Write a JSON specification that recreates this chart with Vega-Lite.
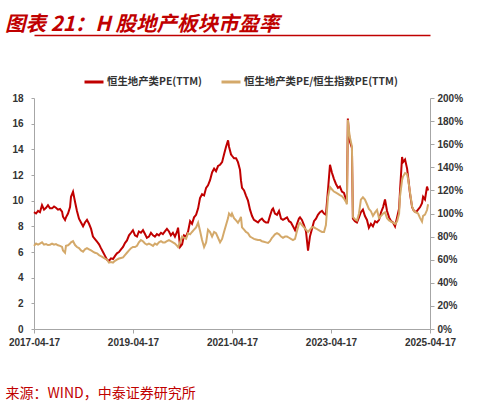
{
  "$schema": "https://vega.github.io/schema/vega-lite/v6.json",
  "width": 396,
  "height": 231,
  "autosize": {"type": "none"},
  "padding": {"left": 34, "top": 98, "right": 58, "bottom": 77},
  "background": "white",
  "title": {
    "text": "图表 21：H 股地产板块市盈率",
    "anchor": "start",
    "frame": "group",
    "dx": -29,
    "dy": 4,
    "offset": 4,
    "color": "#C00000",
    "font": "Noto Sans CJK SC",
    "fontSize": 20.5,
    "fontWeight": "bold",
    "fontStyle": "italic"
  },
  "config": {"view": {"stroke": null}},
  "data": {
    "values": [
      {"date": "2017-04-17", "pe": 9.1, "ratio": 0.72},
      {"date": "2017-05-02", "pe": 9.0, "ratio": 0.74},
      {"date": "2017-05-17", "pe": 9.2, "ratio": 0.73},
      {"date": "2017-05-31", "pe": 9.1, "ratio": 0.74},
      {"date": "2017-06-15", "pe": 9.65, "ratio": 0.75},
      {"date": "2017-06-30", "pe": 9.3, "ratio": 0.73},
      {"date": "2017-07-15", "pe": 9.45, "ratio": 0.735},
      {"date": "2017-07-29", "pe": 9.65, "ratio": 0.727},
      {"date": "2017-08-13", "pe": 9.4, "ratio": 0.73},
      {"date": "2017-08-28", "pe": 9.4, "ratio": 0.74},
      {"date": "2017-09-12", "pe": 9.55, "ratio": 0.73},
      {"date": "2017-09-26", "pe": 9.45, "ratio": 0.735},
      {"date": "2017-10-11", "pe": 9.3, "ratio": 0.725},
      {"date": "2017-10-26", "pe": 9.35, "ratio": 0.72},
      {"date": "2017-11-10", "pe": 9.15, "ratio": 0.71},
      {"date": "2017-11-17", "pe": 8.75, "ratio": 0.68},
      {"date": "2017-12-02", "pe": 8.5, "ratio": 0.66},
      {"date": "2017-12-09", "pe": 8.7, "ratio": 0.72},
      {"date": "2017-12-24", "pe": 9.0, "ratio": 0.725},
      {"date": "2018-01-08", "pe": 9.5, "ratio": 0.74},
      {"date": "2018-01-15", "pe": 10.3, "ratio": 0.75},
      {"date": "2018-01-30", "pe": 10.7, "ratio": 0.76},
      {"date": "2018-02-14", "pe": 9.9, "ratio": 0.727},
      {"date": "2018-02-28", "pe": 9.2, "ratio": 0.71},
      {"date": "2018-03-15", "pe": 8.6, "ratio": 0.70},
      {"date": "2018-03-30", "pe": 8.3, "ratio": 0.68},
      {"date": "2018-04-14", "pe": 8.0, "ratio": 0.67},
      {"date": "2018-04-28", "pe": 8.3, "ratio": 0.69},
      {"date": "2018-05-13", "pe": 8.5, "ratio": 0.70},
      {"date": "2018-05-28", "pe": 8.2, "ratio": 0.69},
      {"date": "2018-06-12", "pe": 7.8, "ratio": 0.68},
      {"date": "2018-06-26", "pe": 7.2, "ratio": 0.67},
      {"date": "2018-07-11", "pe": 7.0, "ratio": 0.66},
      {"date": "2018-07-26", "pe": 6.8, "ratio": 0.655},
      {"date": "2018-08-10", "pe": 6.6, "ratio": 0.64},
      {"date": "2018-08-24", "pe": 6.3, "ratio": 0.63},
      {"date": "2018-09-08", "pe": 6.0, "ratio": 0.62},
      {"date": "2018-09-23", "pe": 5.7, "ratio": 0.61},
      {"date": "2018-10-08", "pe": 5.4, "ratio": 0.60},
      {"date": "2018-10-22", "pe": 5.3, "ratio": 0.575},
      {"date": "2018-11-06", "pe": 5.5, "ratio": 0.58},
      {"date": "2018-11-21", "pe": 5.45, "ratio": 0.575},
      {"date": "2018-12-06", "pe": 5.7, "ratio": 0.59},
      {"date": "2018-12-20", "pe": 5.9, "ratio": 0.60},
      {"date": "2019-01-04", "pe": 6.0, "ratio": 0.61},
      {"date": "2019-01-19", "pe": 6.2, "ratio": 0.615},
      {"date": "2019-02-03", "pe": 6.4, "ratio": 0.62},
      {"date": "2019-02-17", "pe": 6.7, "ratio": 0.64},
      {"date": "2019-03-04", "pe": 6.9, "ratio": 0.66},
      {"date": "2019-03-19", "pe": 7.3, "ratio": 0.68},
      {"date": "2019-04-03", "pe": 7.5, "ratio": 0.70},
      {"date": "2019-04-17", "pe": 7.7, "ratio": 0.71},
      {"date": "2019-05-02", "pe": 7.3, "ratio": 0.71},
      {"date": "2019-05-17", "pe": 7.2, "ratio": 0.72},
      {"date": "2019-05-31", "pe": 7.6, "ratio": 0.75},
      {"date": "2019-06-15", "pe": 7.5, "ratio": 0.77},
      {"date": "2019-06-30", "pe": 7.7, "ratio": 0.76},
      {"date": "2019-07-15", "pe": 7.4, "ratio": 0.74},
      {"date": "2019-07-29", "pe": 7.1, "ratio": 0.73},
      {"date": "2019-08-13", "pe": 7.2, "ratio": 0.74},
      {"date": "2019-08-28", "pe": 7.5, "ratio": 0.73},
      {"date": "2019-09-12", "pe": 7.3, "ratio": 0.72},
      {"date": "2019-09-26", "pe": 7.2, "ratio": 0.74},
      {"date": "2019-10-11", "pe": 7.4, "ratio": 0.73},
      {"date": "2019-10-26", "pe": 7.3, "ratio": 0.75},
      {"date": "2019-11-10", "pe": 7.5, "ratio": 0.76},
      {"date": "2019-11-24", "pe": 7.4, "ratio": 0.75},
      {"date": "2019-12-09", "pe": 7.6, "ratio": 0.75},
      {"date": "2019-12-24", "pe": 7.8, "ratio": 0.76},
      {"date": "2020-01-08", "pe": 7.6, "ratio": 0.77},
      {"date": "2020-01-22", "pe": 7.3, "ratio": 0.76},
      {"date": "2020-02-06", "pe": 7.5, "ratio": 0.75},
      {"date": "2020-02-21", "pe": 7.2, "ratio": 0.74},
      {"date": "2020-03-08", "pe": 7.6, "ratio": 0.72},
      {"date": "2020-03-15", "pe": 7.9, "ratio": 0.71},
      {"date": "2020-03-30", "pe": 6.4, "ratio": 0.75},
      {"date": "2020-04-14", "pe": 6.6, "ratio": 0.80},
      {"date": "2020-04-28", "pe": 7.3, "ratio": 0.79},
      {"date": "2020-05-13", "pe": 7.2, "ratio": 0.78},
      {"date": "2020-05-28", "pe": 7.6, "ratio": 0.83},
      {"date": "2020-06-12", "pe": 8.4, "ratio": 0.82},
      {"date": "2020-06-26", "pe": 8.2, "ratio": 0.84},
      {"date": "2020-07-11", "pe": 8.7, "ratio": 0.86},
      {"date": "2020-07-26", "pe": 8.9, "ratio": 0.88},
      {"date": "2020-08-10", "pe": 9.4, "ratio": 0.92},
      {"date": "2020-08-24", "pe": 10.2, "ratio": 0.85},
      {"date": "2020-09-08", "pe": 10.5, "ratio": 0.77},
      {"date": "2020-09-23", "pe": 10.4, "ratio": 0.71},
      {"date": "2020-10-08", "pe": 11.0, "ratio": 0.75},
      {"date": "2020-10-22", "pe": 11.2, "ratio": 0.86},
      {"date": "2020-11-06", "pe": 11.6, "ratio": 0.84},
      {"date": "2020-11-21", "pe": 12.2, "ratio": 0.80},
      {"date": "2020-12-06", "pe": 12.5, "ratio": 0.84},
      {"date": "2020-12-20", "pe": 12.3, "ratio": 0.83},
      {"date": "2021-01-04", "pe": 12.7, "ratio": 0.79},
      {"date": "2021-01-19", "pe": 12.8, "ratio": 0.75},
      {"date": "2021-02-03", "pe": 13.0, "ratio": 0.78},
      {"date": "2021-02-17", "pe": 13.6, "ratio": 0.84},
      {"date": "2021-03-04", "pe": 14.2, "ratio": 0.90},
      {"date": "2021-03-19", "pe": 14.7, "ratio": 0.96},
      {"date": "2021-03-26", "pe": 14.2, "ratio": 1.00},
      {"date": "2021-04-10", "pe": 13.6, "ratio": 0.98},
      {"date": "2021-04-17", "pe": 13.5, "ratio": 1.00},
      {"date": "2021-05-02", "pe": 13.3, "ratio": 0.96},
      {"date": "2021-05-17", "pe": 13.3, "ratio": 0.94},
      {"date": "2021-05-31", "pe": 13.0, "ratio": 0.92},
      {"date": "2021-06-15", "pe": 12.4, "ratio": 0.95},
      {"date": "2021-06-22", "pe": 11.6, "ratio": 0.97},
      {"date": "2021-06-30", "pe": 11.0, "ratio": 0.88},
      {"date": "2021-07-15", "pe": 10.8, "ratio": 0.86},
      {"date": "2021-07-29", "pe": 10.4, "ratio": 0.84},
      {"date": "2021-08-13", "pe": 10.0, "ratio": 0.83},
      {"date": "2021-08-28", "pe": 9.3, "ratio": 0.80},
      {"date": "2021-09-12", "pe": 8.8, "ratio": 0.79},
      {"date": "2021-09-26", "pe": 8.5, "ratio": 0.78},
      {"date": "2021-10-11", "pe": 8.4, "ratio": 0.775},
      {"date": "2021-10-26", "pe": 8.3, "ratio": 0.77},
      {"date": "2021-11-10", "pe": 8.5, "ratio": 0.77},
      {"date": "2021-11-24", "pe": 8.6, "ratio": 0.76},
      {"date": "2021-12-09", "pe": 8.4, "ratio": 0.755},
      {"date": "2021-12-24", "pe": 8.3, "ratio": 0.75},
      {"date": "2022-01-08", "pe": 8.3, "ratio": 0.745},
      {"date": "2022-01-22", "pe": 8.8, "ratio": 0.76},
      {"date": "2022-02-06", "pe": 9.3, "ratio": 0.79},
      {"date": "2022-02-14", "pe": 9.4, "ratio": 0.80},
      {"date": "2022-02-28", "pe": 9.0, "ratio": 0.82},
      {"date": "2022-03-15", "pe": 8.9, "ratio": 0.83},
      {"date": "2022-03-30", "pe": 9.2, "ratio": 0.82},
      {"date": "2022-04-14", "pe": 8.6, "ratio": 0.80},
      {"date": "2022-04-28", "pe": 8.5, "ratio": 0.79},
      {"date": "2022-05-13", "pe": 8.6, "ratio": 0.80},
      {"date": "2022-05-28", "pe": 8.7, "ratio": 0.80},
      {"date": "2022-06-12", "pe": 8.4, "ratio": 0.79},
      {"date": "2022-06-26", "pe": 8.3, "ratio": 0.78},
      {"date": "2022-07-11", "pe": 8.0, "ratio": 0.77},
      {"date": "2022-07-26", "pe": 7.7, "ratio": 0.78},
      {"date": "2022-08-10", "pe": 8.2, "ratio": 0.85},
      {"date": "2022-08-24", "pe": 8.6, "ratio": 0.91},
      {"date": "2022-09-01", "pe": 8.7, "ratio": 0.92},
      {"date": "2022-09-15", "pe": 8.5, "ratio": 0.90},
      {"date": "2022-09-30", "pe": 8.1, "ratio": 0.88},
      {"date": "2022-10-15", "pe": 7.6, "ratio": 0.86},
      {"date": "2022-10-30", "pe": 6.1, "ratio": 0.84},
      {"date": "2022-11-13", "pe": 7.2, "ratio": 0.86},
      {"date": "2022-11-28", "pe": 7.8, "ratio": 0.88},
      {"date": "2022-12-13", "pe": 8.4, "ratio": 0.88},
      {"date": "2022-12-28", "pe": 8.6, "ratio": 0.87},
      {"date": "2023-01-11", "pe": 8.9, "ratio": 0.86},
      {"date": "2023-01-26", "pe": 9.1, "ratio": 0.85},
      {"date": "2023-02-10", "pe": 9.2, "ratio": 0.84},
      {"date": "2023-02-25", "pe": 9.0, "ratio": 0.84},
      {"date": "2023-03-11", "pe": 8.9, "ratio": 0.90},
      {"date": "2023-03-26", "pe": 10.8, "ratio": 1.14},
      {"date": "2023-04-10", "pe": 12.8, "ratio": 1.23},
      {"date": "2023-04-24", "pe": 12.2, "ratio": 1.21},
      {"date": "2023-05-09", "pe": 11.7, "ratio": 1.19},
      {"date": "2023-05-24", "pe": 11.3, "ratio": 1.18},
      {"date": "2023-06-08", "pe": 11.0, "ratio": 1.17},
      {"date": "2023-06-22", "pe": 11.1, "ratio": 1.16},
      {"date": "2023-07-07", "pe": 10.7, "ratio": 1.15},
      {"date": "2023-07-22", "pe": 10.6, "ratio": 1.13},
      {"date": "2023-08-06", "pe": 10.1, "ratio": 1.10},
      {"date": "2023-08-13", "pe": 9.9, "ratio": 1.08},
      {"date": "2023-08-20", "pe": 16.4, "ratio": 1.81},
      {"date": "2023-08-28", "pe": 15.2, "ratio": 1.72},
      {"date": "2023-09-04", "pe": 14.6, "ratio": 1.66},
      {"date": "2023-09-19", "pe": 14.1, "ratio": 1.58},
      {"date": "2023-09-26", "pe": 8.6, "ratio": 0.97},
      {"date": "2023-10-11", "pe": 8.4, "ratio": 0.95},
      {"date": "2023-10-26", "pe": 8.3, "ratio": 0.94},
      {"date": "2023-11-10", "pe": 8.7, "ratio": 1.00},
      {"date": "2023-11-24", "pe": 9.1, "ratio": 1.12},
      {"date": "2023-12-09", "pe": 9.3, "ratio": 1.14},
      {"date": "2023-12-24", "pe": 8.8, "ratio": 1.12},
      {"date": "2024-01-08", "pe": 8.5, "ratio": 1.08},
      {"date": "2024-01-22", "pe": 7.9, "ratio": 1.04},
      {"date": "2024-02-06", "pe": 8.2, "ratio": 1.02},
      {"date": "2024-02-21", "pe": 8.0, "ratio": 0.98},
      {"date": "2024-03-08", "pe": 8.4, "ratio": 1.01},
      {"date": "2024-03-22", "pe": 8.3, "ratio": 1.03},
      {"date": "2024-04-06", "pe": 8.5, "ratio": 0.96},
      {"date": "2024-04-21", "pe": 9.1, "ratio": 0.98},
      {"date": "2024-05-06", "pe": 9.5, "ratio": 1.00},
      {"date": "2024-05-20", "pe": 10.1, "ratio": 1.01},
      {"date": "2024-06-04", "pe": 9.2, "ratio": 0.96},
      {"date": "2024-06-19", "pe": 8.7, "ratio": 0.94},
      {"date": "2024-07-04", "pe": 8.4, "ratio": 0.93},
      {"date": "2024-07-18", "pe": 8.3, "ratio": 0.92},
      {"date": "2024-08-02", "pe": 8.0, "ratio": 0.91},
      {"date": "2024-08-17", "pe": 8.7, "ratio": 0.93},
      {"date": "2024-09-01", "pe": 9.4, "ratio": 1.00},
      {"date": "2024-09-08", "pe": 10.8, "ratio": 1.15},
      {"date": "2024-09-23", "pe": 13.4, "ratio": 1.29},
      {"date": "2024-09-30", "pe": 13.0, "ratio": 1.32},
      {"date": "2024-10-15", "pe": 13.2, "ratio": 1.35},
      {"date": "2024-10-30", "pe": 12.5, "ratio": 1.34},
      {"date": "2024-11-06", "pe": 11.9, "ratio": 1.30},
      {"date": "2024-11-21", "pe": 10.5, "ratio": 1.18},
      {"date": "2024-12-06", "pe": 9.5, "ratio": 1.06},
      {"date": "2024-12-20", "pe": 9.2, "ratio": 1.02},
      {"date": "2025-01-04", "pe": 9.1, "ratio": 1.01},
      {"date": "2025-01-19", "pe": 9.3, "ratio": 1.00},
      {"date": "2025-02-03", "pe": 9.5, "ratio": 0.96},
      {"date": "2025-02-17", "pe": 9.8, "ratio": 0.93},
      {"date": "2025-02-25", "pe": 10.3, "ratio": 0.98},
      {"date": "2025-03-11", "pe": 10.1, "ratio": 0.99},
      {"date": "2025-03-26", "pe": 11.1, "ratio": 1.03},
      {"date": "2025-04-03", "pe": 10.8, "ratio": 1.08}
    ]
  },
  "layer": [
    {
      "mark": {"type": "line", "strokeWidth": 2},
      "encoding": {
        "x": {
          "field": "date",
          "type": "temporal",
          "scale": {
            "type": "utc",
            "domain": [
              {"year": 2017, "month": 4, "date": 17, "utc": true},
              {"year": 2025, "month": 4, "date": 17, "utc": true}
            ]
          },
          "axis": {
            "orient": "bottom",
            "values": [
              {"year": 2017, "month": 4, "date": 17, "utc": true},
              {"year": 2019, "month": 4, "date": 17, "utc": true},
              {"year": 2021, "month": 4, "date": 17, "utc": true},
              {"year": 2023, "month": 4, "date": 17, "utc": true},
              {"year": 2025, "month": 4, "date": 17, "utc": true}
            ],
            "format": "%Y-%m-%d",
            "labelFont": "Liberation Sans",
            "labelFontSize": 10,
            "labelFontWeight": "bold",
            "labelColor": "#333333",
            "labelFlush": false,
            "labelOverlap": false,
            "labelPadding": 4,
            "domainColor": "#A6A6A6",
            "tickColor": "#A6A6A6",
            "tickSize": 4,
            "grid": false,
            "title": "来源：WIND，中泰证券研究所",
            "titleX": -29,
            "titleY": 64,
            "titleAlign": "left",
            "titleBaseline": "middle",
            "titleColor": "#C00000",
            "titleFont": "Noto Sans CJK SC",
            "titleFontSize": 14,
            "titleFontWeight": "normal"
          }
        },
        "y": {
          "field": "pe",
          "type": "quantitative",
          "scale": {"domain": [0, 18], "nice": false},
          "axis": {
            "orient": "left",
            "values": [0, 2, 4, 6, 8, 10, 12, 14, 16, 18],
            "labelFont": "Liberation Sans",
            "labelFontSize": 10,
            "labelFontWeight": "bold",
            "labelColor": "#333333",
            "domainColor": "#A6A6A6",
            "tickColor": "#A6A6A6",
            "tickSize": 3,
            "labelPadding": 8,
            "grid": false,
            "title": null
          }
        },
        "color": {
          "datum": "恒生地产类PE(TTM)",
          "type": "nominal",
          "scale": {
            "domain": ["恒生地产类PE(TTM)", "恒生地产类PE/恒生指数PE(TTM)"],
            "range": ["#C00000", "#D4A96A"]
          },
          "legend": {
            "title": null,
            "orient": "none",
            "legendX": 49,
            "legendY": -27,
            "direction": "horizontal",
            "symbolType": "stroke",
            "symbolSize": 361,
            "symbolStrokeWidth": 3,
            "labelFont": "Noto Sans CJK SC",
            "labelFontSize": 10.4,
            "labelFontWeight": "bold",
            "labelColor": "#333333",
            "labelOffset": 2,
            "labelLimit": 300,
            "columnPadding": 13,
            "padding": 0
          }
        }
      }
    },
    {
      "mark": {"type": "line", "strokeWidth": 2},
      "encoding": {
        "x": {
          "field": "date",
          "type": "temporal",
          "axis": {
            "orient": "top",
            "offset": 63,
            "domainColor": "#C00000",
            "domainWidth": 1.5,
            "labels": false,
            "ticks": false,
            "grid": false,
            "title": null
          }
        },
        "y": {
          "field": "ratio",
          "type": "quantitative",
          "scale": {"domain": [0, 2], "nice": false},
          "axis": {
            "orient": "right",
            "values": [0, 0.2, 0.4, 0.6, 0.8, 1.0, 1.2, 1.4, 1.6, 1.8, 2.0],
            "format": ".0%",
            "labelFont": "Liberation Sans",
            "labelFontSize": 10,
            "labelFontWeight": "bold",
            "labelColor": "#333333",
            "domainColor": "#A6A6A6",
            "tickColor": "#A6A6A6",
            "tickSize": 4,
            "labelPadding": 3,
            "grid": false,
            "title": null
          }
        },
        "color": {"datum": "恒生地产类PE/恒生指数PE(TTM)", "type": "nominal"}
      }
    }
  ],
  "resolve": {"scale": {"y": "independent"}, "axis": {"x": "independent"}}
}
